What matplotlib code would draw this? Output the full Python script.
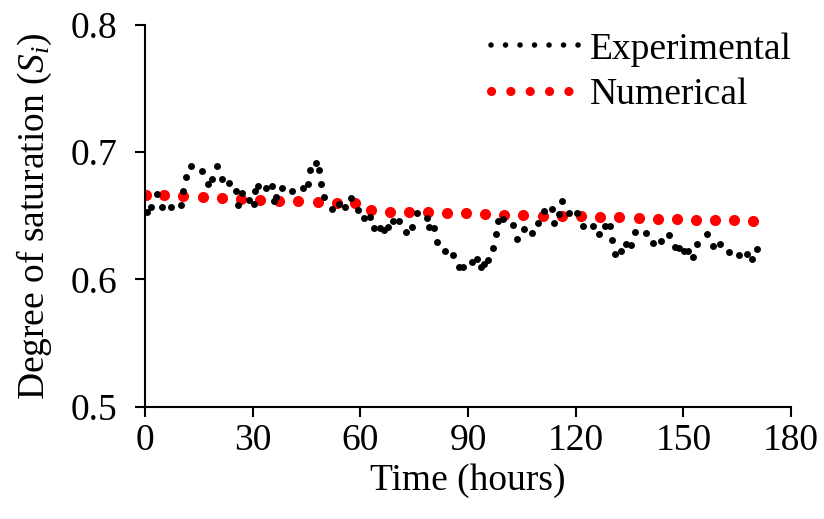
import matplotlib
matplotlib.use("Agg")
import matplotlib.pyplot as plt
from matplotlib.lines import Line2D

# Measured degree of saturation over time
exp_time = [0.6, 1.8, 3.4, 4.8, 7.2, 10.0, 10.7, 11.3, 12.8, 15.8,
            17.6, 18.7, 20.0, 21.5, 23.4, 25.3, 26.0, 27.0, 29.1, 30.4,
            30.7, 31.6, 33.7, 35.3, 35.8, 36.6, 38.3, 41.0, 43.9, 45.4,
            46.0, 47.7, 48.6, 49.0, 49.9, 52.0, 54.1, 55.6, 57.4, 59.4,
            60.9, 62.8, 63.9, 65.5, 66.6, 67.8, 69.2, 70.8, 72.7, 74.5,
            75.9, 78.5, 79.2, 80.5, 81.3, 83.7, 85.7, 87.5, 88.7, 91.1,
            92.4, 93.5, 94.5, 95.7, 96.9, 97.7, 98.4, 99.8, 102.4, 103.7,
            105.6, 107.9, 109.4, 111.1, 113.3, 114.0, 115.3, 116.3, 118.2, 120.5,
            122.1, 124.9, 126.5, 128.2, 129.6, 130.2, 131.0, 132.7, 133.9, 135.5,
            136.4, 139.7, 141.5, 143.8, 146.1, 147.6, 148.8, 150.1, 151.4, 152.6,
            153.9, 156.5, 158.2, 160.1, 162.6, 165.5, 167.7, 169.2, 170.4]
exp_si = [0.6533, 0.6573, 0.6669, 0.6567, 0.6573, 0.6585, 0.6695, 0.6803, 0.6892, 0.6849,
          0.6749, 0.6787, 0.6892, 0.6788, 0.6756, 0.6695, 0.6585, 0.6677, 0.6625, 0.6591,
          0.6698, 0.6735, 0.6715, 0.6732, 0.6619, 0.6648, 0.6715, 0.6695, 0.6717, 0.6749,
          0.6858, 0.6919, 0.6860, 0.6750, 0.6646, 0.6551, 0.6593, 0.6570, 0.6638, 0.6546,
          0.6485, 0.6489, 0.6404, 0.6402, 0.6389, 0.6415, 0.6462, 0.6459, 0.6373, 0.6415,
          0.6520, 0.6485, 0.6415, 0.6402, 0.6294, 0.6224, 0.6195, 0.6100, 0.6100, 0.6140,
          0.6158, 0.6100, 0.6122, 0.6153, 0.6247, 0.6357, 0.6462, 0.6474, 0.6426, 0.6320,
          0.6394, 0.6368, 0.6446, 0.6536, 0.6552, 0.6446, 0.6516, 0.6619, 0.6525, 0.6520,
          0.6420, 0.6420, 0.6357, 0.6423, 0.6420, 0.6310, 0.6202, 0.6226, 0.6275, 0.6269,
          0.6375, 0.6363, 0.6284, 0.6306, 0.6349, 0.6255, 0.6245, 0.6226, 0.6226, 0.6174,
          0.6275, 0.6355, 0.6261, 0.6275, 0.6214, 0.6195, 0.6200, 0.6158, 0.6237]

# Model prediction
num_time = [0.3, 5.4, 10.7, 16.1, 21.4, 26.8, 32.0, 37.4, 42.7, 48.1,
            53.4, 58.6, 62.9, 68.3, 73.6, 78.9, 84.2, 89.4, 94.7, 100.1,
            105.4, 110.8, 116.1, 121.4, 126.8, 132.1, 137.5, 142.8, 148.2, 153.5,
            158.7, 164.0, 169.3]
num_si = [0.6664, 0.6664, 0.6656, 0.6646, 0.6638, 0.6632, 0.6625, 0.6619, 0.6614, 0.6606,
          0.6599, 0.6599, 0.6544, 0.6534, 0.6532, 0.6528, 0.6525, 0.6520, 0.6516, 0.6509,
          0.6507, 0.6501, 0.6499, 0.6495, 0.6493, 0.6489, 0.6483, 0.6478, 0.6475, 0.6470,
          0.6467, 0.6465, 0.6462]

x_ticks = [0, 30, 60, 90, 120, 150, 180]
y_ticks = [0.5, 0.6, 0.7, 0.8]

plt.rcParams['font.family'] = ['Liberation Serif', 'DejaVu Serif']
plt.rcParams['mathtext.fontset'] = 'custom'
plt.rcParams['mathtext.rm'] = 'Liberation Serif'
plt.rcParams['mathtext.it'] = 'Liberation Serif:italic'

fs = 27

fig = plt.figure(figsize=(8.24, 5.19), dpi=100)
ax = fig.add_axes([0.176, 0.2164, 0.784, 0.7354])

ax.plot(exp_time, exp_si, 'o', color='black', markersize=5.0,
        markeredgewidth=0, zorder=3)
ax.plot(num_time, num_si, 'o', color='#ff0000', markersize=8.0,
        markeredgewidth=0, zorder=2)

ax.set_xlim(0, 180)
ax.set_ylim(0.5, 0.8)
ax.set_xticks(x_ticks)
ax.set_yticks(y_ticks)
ax.set_xticklabels([str(v) for v in x_ticks])
ax.set_yticklabels(['%.1f' % v for v in y_ticks])
ax.tick_params(direction='out', length=7, width=1.5, labelsize=fs)
ax.tick_params(axis='x', pad=5)
ax.tick_params(axis='y', pad=13)

for side in ['top', 'right']:
    ax.spines[side].set_visible(False)
for side in ['left', 'bottom']:
    ax.spines[side].set_linewidth(1.5)

ax.set_xlabel('Time (hours)', fontsize=fs, labelpad=4)
ax.set_ylabel(r'Degree of saturation ($S_i$)', fontsize=fs, labelpad=12)

# dotted legend keys
h_exp = Line2D([], [], color='black', linewidth=4.0,
               linestyle=(0, (0.01, 2.6)), dash_capstyle='round')
h_num = Line2D([], [], color='#ff0000', linewidth=6.6,
               linestyle=(0, (0.01, 2.1)), dash_capstyle='round')
ax.legend([h_exp, h_num], ['Experimental', 'Numerical'], loc='upper right',
          bbox_to_anchor=(1.054, 1.07), frameon=False, fontsize=fs,
          handlelength=2.5, handletextpad=0.15, labelspacing=0.3)

fig.savefig('out.png', dpi=100)
